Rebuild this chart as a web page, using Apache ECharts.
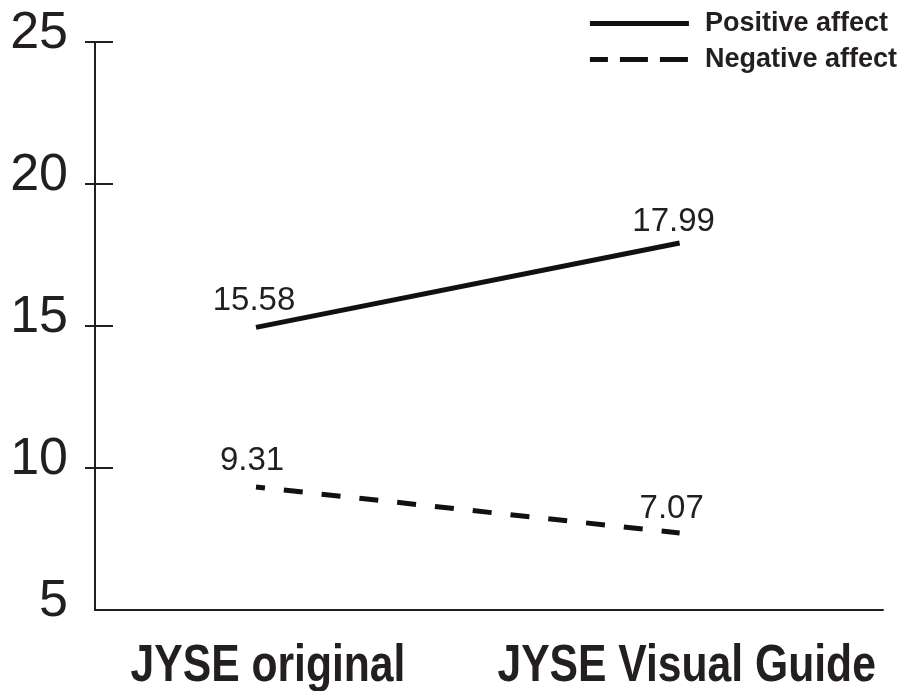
<!DOCTYPE html>
<html>
<head>
<meta charset="utf-8">
<script src="https://cdn.jsdelivr.net/npm/echarts@6/dist/echarts.min.js"></script>
<style>
  html, body { margin: 0; padding: 0; background: #fff; }
  #chart { width: 906px; height: 691px; }
</style>
</head>
<body>
<div id="chart"></div>
<script>
// categories on the x axis (placed at x = 1 and x = 2)
const categories = ["JYSE original", "JYSE Visual Guide"];
const xPos = [1, 2];

// where the lines sit on the y scale
const positiveValues = [14.95, 17.92];
const negativeValues = [9.33, 7.71];

// the numbers printed next to the points
const positiveLabels = ["15.58", "17.99"];
const negativeLabels = ["9.31", "7.07"];

const yTicks = [5, 10, 15, 20, 25];

const ink = "#231f20";
const font = "'Liberation Sans', Arial, Helvetica, sans-serif";

const chart = echarts.init(document.getElementById("chart"));

// label nudges (px) so the numbers sit where the original printed them
const labelNudge = {
    pos: [[-2, 0], [-6, 5]],
    neg: [[-4, 0], [-8, 2]]
};

function pts(vals, nudge) {
    return vals.map((v, i) => ({ value: [xPos[i], v], label: { offset: nudge[i] } }));
}

function pointLabel(texts) {
    return {
        show: true,
        position: "top",
        distance: 10,
        color: ink,
        fontFamily: font,
        fontSize: 33,
        formatter: (p) => texts[p.dataIndex]
    };
}

chart.setOption({
    backgroundColor: "#fff",
    animation: false,
    grid: {
        left: 95,
        right: 23,
        top: 42,
        bottom: 81,
        outerBoundsMode: "none"
    },
    legend: {
        orient: "vertical",
        right: 4,
        top: 5,
        itemWidth: 99,
        itemHeight: 14,
        itemGap: 9,
        align: "left",
        itemStyle: { opacity: 0 },
        textStyle: {
            color: ink,
            fontFamily: font,
            fontWeight: "bold",
            fontSize: 27,
            padding: [0, 0, 0, 11]
        },
        data: [
            { name: "Positive affect", itemStyle: { opacity: 0 }, lineStyle: { type: "solid", width: 5, color: "#111" } },
            { name: "Negative affect", itemStyle: { opacity: 0 }, lineStyle: { type: [28, 12], width: 5, color: "#111" } }
        ]
    },
    xAxis: {
        type: "value",
        min: 0.62,
        max: 2.48,
        splitLine: { show: false },
        axisLine: { show: true, lineStyle: { color: ink, width: 2 } },
        axisTick: { show: false },
        axisLabel: { show: false }
    },
    yAxis: [
        {
            type: "value",
            min: 5,
            max: 25,
            interval: 5,
            splitLine: { show: false },
            axisLine: { show: true, lineStyle: { color: ink, width: 2 } },
            axisTick: {
                show: true,
                length: 10,
                customValues: yTicks.slice(1),
                lineStyle: { color: ink, width: 2 }
            },
            axisLabel: {
                margin: 27,
                color: ink,
                fontFamily: font,
                fontSize: 52,
                verticalAlign: "bottom",
                lineHeight: 17
            }
        },
        {
            type: "value",
            min: 5,
            max: 25,
            interval: 5,
            position: "left",
            splitLine: { show: false },
            axisLine: { show: false },
            axisLabel: { show: false },
            axisTick: {
                show: true,
                inside: true,
                length: 18,
                customValues: yTicks.slice(1),
                lineStyle: { color: ink, width: 2 }
            }
        }
    ],
    series: [
        {
            name: "Positive affect",
            type: "line",
            symbol: "circle",
            symbolSize: 0,
            data: pts(positiveValues, labelNudge.pos),
            lineStyle: { color: "#111", width: 5, type: "solid" },
            itemStyle: { color: "#111" },
            label: pointLabel(positiveLabels)
        },
        {
            name: "Negative affect",
            type: "line",
            symbol: "circle",
            symbolSize: 0,
            data: pts(negativeValues, labelNudge.neg),
            lineStyle: { color: "#111", width: 5, type: [19, 19], dashOffset: 10 },
            itemStyle: { color: "#111" },
            label: pointLabel(negativeLabels)
        }
    ]
});

// category names under the axis: condensed bold text, placed from the axis scale
const labelShift = [12, 7];
chart.setOption({
    graphic: categories.map((name, i) => {
        const p = chart.convertToPixel({ gridIndex: 0 }, [xPos[i], yTicks[0]]);
        return {
            type: "text",
            x: p[0] + labelShift[i],
            y: p[1] + 31,
            scaleX: 0.82,
            style: {
                text: name,
                x: 0,
                y: 0,
                align: "center",
                verticalAlign: "top",
                fill: ink,
                fontFamily: font,
                fontWeight: "bold",
                fontSize: 52
            }
        };
    })
});
</script>
</body>
</html>
